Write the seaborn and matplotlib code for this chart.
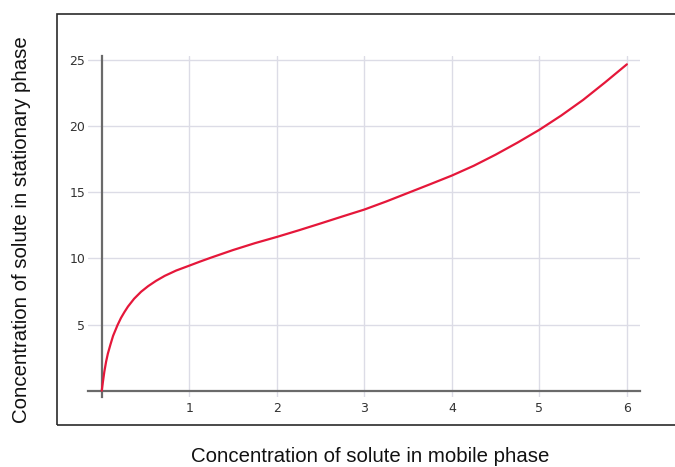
import matplotlib
matplotlib.use("Agg")
import matplotlib.pyplot as plt
from matplotlib.patches import Rectangle
from matplotlib.ticker import MultipleLocator
import seaborn as sns
import pandas as pd

# Isotherm: solute concentration in mobile phase vs stationary phase
mobile_conc = [0, 0.01, 0.03, 0.05, 0.07, 0.1, 0.13, 0.18, 0.22, 0.26, 0.3,
               0.37, 0.45, 0.53, 0.62, 0.72, 0.85, 1.0, 1.12, 1.25, 1.5, 1.75,
               2.0, 2.25, 2.5, 2.75, 3.0, 3.25, 3.5, 3.75, 4.0, 4.25, 4.5,
               4.75, 5.0, 5.25, 5.5, 5.75, 6.0]
stationary_conc = [0, 0.5, 1.45, 2.2, 2.8, 3.5, 4.15, 4.95, 5.5, 5.95, 6.36,
                   6.95, 7.48, 7.9, 8.3, 8.68, 9.08, 9.45, 9.75, 10.06, 10.63,
                   11.15, 11.62, 12.12, 12.64, 13.17, 13.69, 14.3, 14.95, 15.6,
                   16.26, 17.0, 17.84, 18.75, 19.72, 20.8, 21.98, 23.3, 24.67]
x_ticks = [1, 2, 3, 4, 5, 6]
y_ticks = [5, 10, 15, 20, 25]

df = pd.DataFrame({"mobile": mobile_conc, "stationary": stationary_conc})

sns.set_style("white")
plt.rcParams["font.family"] = ["DejaVu Sans"]

W, H = 675, 467
fig = plt.figure(figsize=(W / 100, H / 100), dpi=100)
ax = fig.add_axes([88 / W, 1 - 397 / H, (640 - 88) / W, (397 - 56) / H])

sns.lineplot(data=df, x="mobile", y="stationary", ax=ax, color="#e5173a",
             linewidth=1.6, zorder=5, sort=False)

ax.set_xlim(-0.157, 6.15)
ax.set_ylim(-0.48, 25.3)
ax.set_xticks(x_ticks)
ax.set_xticklabels([str(t) for t in x_ticks])
ax.set_yticks(y_ticks)
ax.set_yticklabels([str(t) for t in y_ticks])
ax.xaxis.set_minor_locator(MultipleLocator(0.2))
ax.yaxis.set_minor_locator(MultipleLocator(1))

ax.grid(True, which="major", color="#dcdce6", linewidth=1.0, zorder=0)
ax.set_axisbelow(True)

# Axis lines through the origin
for side in ("top", "right"):
    ax.spines[side].set_visible(False)
ax.spines["left"].set_position(("data", 0))
ax.spines["bottom"].set_position(("data", 0))
for side in ("left", "bottom"):
    ax.spines[side].set_color("#6a6a6a")
    ax.spines[side].set_linewidth(1.6)
    ax.spines[side].set_zorder(3)

ax.tick_params(axis="x", which="major", direction="out", length=3, width=1,
               color="#6a6a6a", pad=5, labelsize=9, labelcolor="#333333")
ax.tick_params(axis="y", which="major", direction="out", length=3, width=1,
               color="#6a6a6a", pad=9, labelsize=9, labelcolor="#333333")
ax.tick_params(which="minor", direction="in", length=2.5, width=0.8,
               color="#9a9a9a")
ax.set_xlabel("")
ax.set_ylabel("")

# Outer frame
fig.patches.append(Rectangle((57 / W, 1 - 425 / H), 1.0, (425 - 13.5) / H,
                             transform=fig.transFigure, fill=False,
                             edgecolor="#2a2a2a", linewidth=1.2, zorder=10))

fig.text(370 / W, 1 - 457 / H, "Concentration of solute in mobile phase",
         ha="center", va="center", fontsize=14.7, family="Liberation Sans",
         color="#111111")
fig.text(22 / W, 1 - 229.5 / H, "Concentration of solute in stationary phase",
         ha="center", va="center", rotation=90, fontsize=14.7,
         family="Liberation Sans", color="#111111")

fig.savefig("out.png", dpi=100)
